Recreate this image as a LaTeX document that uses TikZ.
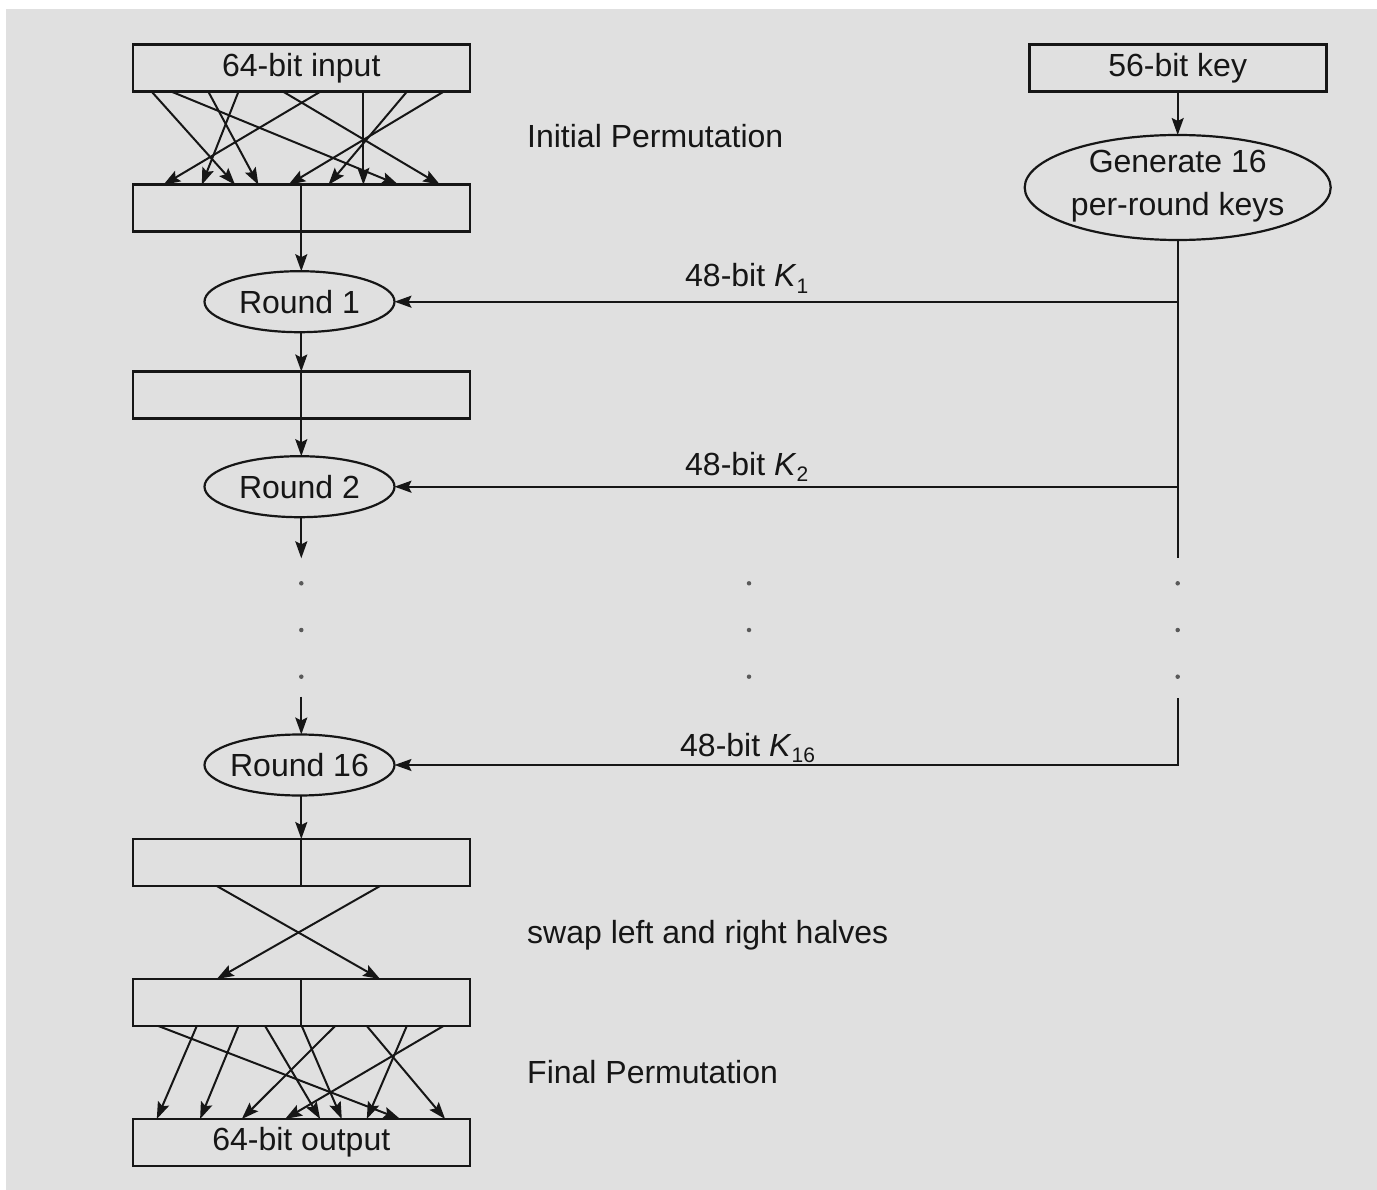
\documentclass[tikz,border=0pt]{standalone}
\usepackage{fontspec}
\setmainfont{Liberation Sans}
\usetikzlibrary{arrows.meta,calc,shapes.geometric}
\definecolor{ink}{HTML}{161616}
\definecolor{bgc}{HTML}{E0E0E0}
\definecolor{dotc}{HTML}{5A5A5A}
\newcommand\dlbl{\fontsize{32}{38}\selectfont}
\newcommand\kk[1]{\textit{K}\raisebox{-0.2em}{\fontsize{21}{21}\selectfont #1}}
\newcommand\permline[4]{\draw[arr] ($(#1.south west)+(#2,0)$) -- ($(#3.north west)+(#4,0)$);}
\begin{document}
\begin{tikzpicture}[x=1pt,y=-1pt,
  box/.style={draw=ink, line width=2.6pt, minimum width=337pt, minimum height=47pt, outer sep=0pt, inner sep=0pt, font=\dlbl, text=ink},
  oval/.style={draw=ink, ellipse, line width=2.2pt, minimum width=190pt, minimum height=61pt, inner ysep=0pt, inner xsep=-5pt, outer sep=0pt, font=\dlbl, text=ink},
  arr/.style={draw=ink, line width=2pt, -{Stealth[length=17pt,width=12pt,inset=3pt]}},
  ln/.style={draw=ink, line width=2pt},
  lab/.style={font=\dlbl, text=ink, inner sep=0pt},
  dot/.style={fill=dotc, circle, inner sep=0pt, minimum size=4.5pt}
]
\useasboundingbox (0,0) rectangle (1377,1190);
\fill[white] (0,0) rectangle (1377,1190);
\fill[bgc] (6,9) rectangle (1377,1190);

% left column
\node[box] (in) at (301.3,68.3) {64-bit input};
\node[box] (p1) at (301.3,208.3) {};
\node[oval] (r1) at (299.5,301.7) {Round 1};
\node[box] (b1) at (301.3,395) {};
\node[oval] (r2) at (299.5,486.7) {Round 2};
\node[oval] (r16) at (299.5,765) {Round 16};
\node[box] (pre) at (301.3,862.5) {};
\node[box] (post) at (301.3,1002.5) {};
\node[box] (out) at (301.3,1142.5) {64-bit output};

% right column
\node[box, minimum width=297pt] (key) at (1177.7,68.3) {56-bit key};
\node[oval, minimum width=306pt, minimum height=105pt, inner xsep=0pt] (gen) at (1177.7,187.5) {};
\node[lab, align=center] (gent) at (1177.7,186.5) {Generate 16\\[5pt]per-round keys};

% side labels
\node[lab, anchor=base west] (ip) at (527,148) {Initial Permutation};
\node[lab, anchor=base west] (sw) at (527,943) {swap left and right halves};
\node[lab, anchor=base west] (fp) at (527,1083) {Final Permutation};
\node[lab, anchor=base west] (k1) at (685,287) {48-bit \kk{1}};
\node[lab, anchor=base west] (k2) at (685,475) {48-bit \kk{2}};
\node[lab, anchor=base west] (k16) at (680,756) {48-bit \kk{16}};

% dots
\foreach \cx/\nm in {301.3/l,749/m,1177.7/r}{
  \node[dot] (\nm d1) at (\cx,583.3) {};
  \node[dot] (\nm d2) at (\cx,630) {};
  \node[dot] (\nm d3) at (\cx,676.7) {};
}

% key connectors
\coordinate (kb) at (1177.7,558.3);
\coordinate (kt) at (1177.7,698.3);
\draw[arr] (key.south) -- (gen.north);
\draw[ln] (gen.south) -- (kb);
\draw[arr] (gen.south |- r1.east) -- (r1.east);
\draw[arr] (gen.south |- r2.east) -- (r2.east);
\draw[arr] (kt) |- (r16.east);

% main chain
\coordinate (a2) at (301.3,558.3);
\coordinate (a16) at (301.3,696.7);
\draw[arr] (p1.north) -- (p1.north |- r1.north);
\draw[arr] (r1.south -| b1.north) -- (b1.north);
\draw[arr] (b1.north) -- (b1.north |- r2.north);
\draw[arr] (r2.south -| a2) -- (a2);
\draw[arr] (a16) -- (a16 |- r16.north);
\draw[arr] (r16.south -| pre.north) -- (pre.north);
\draw[ln] (pre.north) -- (pre.south);
\draw[ln] (post.north) -- (post.south);

% initial permutation
\permline{in}{19}{p1}{102.3}
\permline{in}{39}{p1}{265.6}
\permline{in}{75.6}{p1}{125.6}
\permline{in}{105.6}{p1}{69}
\permline{in}{150.6}{p1}{307.3}
\permline{in}{187.3}{p1}{30.6}
\permline{in}{230.6}{p1}{230.6}
\permline{in}{274}{p1}{195.6}
\permline{in}{310.6}{p1}{155.6}

% swap
\permline{pre}{84}{post}{247.3}
\permline{pre}{247.3}{post}{84}

% final permutation
\permline{post}{25.6}{out}{267.3}
\permline{post}{64}{out}{24}
\permline{post}{105.6}{out}{67.3}
\permline{post}{132.3}{out}{187.3}
\permline{post}{169}{out}{209}
\permline{post}{202.3}{out}{109}
\permline{post}{234}{out}{312.3}
\permline{post}{274}{out}{234}
\permline{post}{310.6}{out}{152.3}
\end{tikzpicture}
\end{document}
